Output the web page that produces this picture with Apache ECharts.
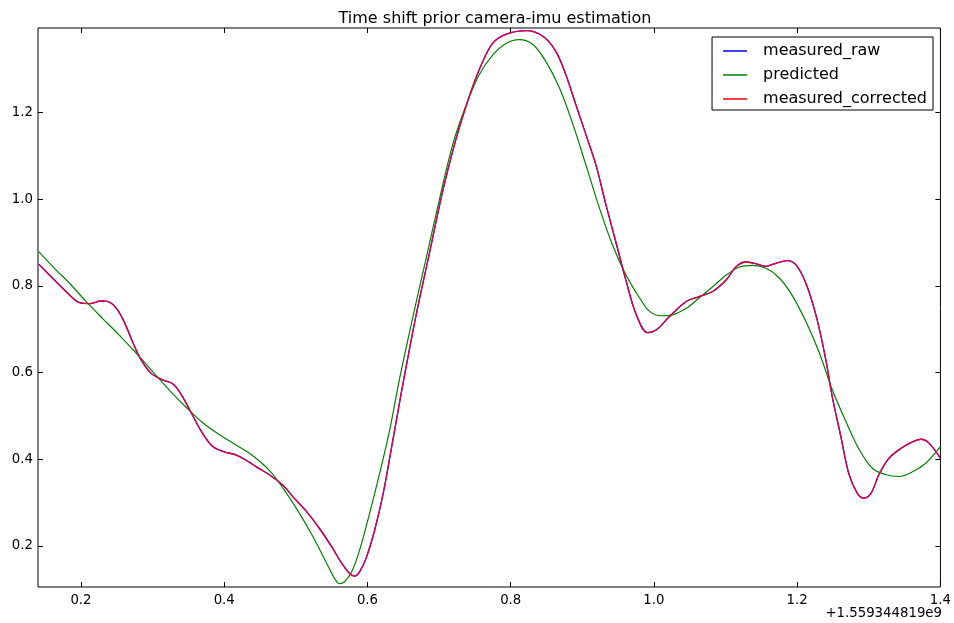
<!DOCTYPE html>
<html>
<head>
<meta charset="utf-8">
<script src="https://cdn.jsdelivr.net/npm/echarts@6/dist/echarts.min.js"></script>
<style>
  html, body { margin: 0; padding: 0; background: #fff; }
  #chart { width: 954px; height: 623px; }
</style>
</head>
<body>
<div id="chart"></div>
<script>
// Time axis: seconds relative to the offset 1.559344819e9
const measuredT = [0.141, 0.165, 0.184, 0.198, 0.212, 0.228, 0.237, 0.249, 0.260, 0.272,
  0.284, 0.298, 0.314, 0.328, 0.339, 0.353, 0.367, 0.384, 0.400, 0.416,
  0.430, 0.446, 0.463, 0.482, 0.496, 0.515, 0.533, 0.550, 0.564, 0.575,
  0.582, 0.589, 0.598, 0.610, 0.622, 0.633, 0.643, 0.650, 0.668, 0.687,
  0.705, 0.724, 0.743, 0.759, 0.775, 0.794, 0.822, 0.845, 0.863, 0.877,
  0.891, 0.905, 0.919, 0.933, 0.947, 0.961, 0.975, 0.991, 1.003, 1.021,
  1.045, 1.063, 1.082, 1.101, 1.114, 1.128, 1.142, 1.156, 1.170, 1.186,
  1.200, 1.214, 1.228, 1.240, 1.249, 1.261, 1.272, 1.284, 1.293, 1.303,
  1.314, 1.328, 1.345, 1.361, 1.373, 1.384, 1.400];

const measuredRaw = [0.850, 0.810, 0.779, 0.761, 0.759, 0.765, 0.764, 0.749, 0.718, 0.671,
  0.629, 0.598, 0.583, 0.574, 0.552, 0.510, 0.467, 0.429, 0.417, 0.410,
  0.398, 0.381, 0.364, 0.340, 0.313, 0.279, 0.240, 0.198, 0.160, 0.136,
  0.130, 0.140, 0.171, 0.236, 0.321, 0.421, 0.514, 0.578, 0.733, 0.879,
  1.018, 1.141, 1.241, 1.310, 1.360, 1.381, 1.389, 1.376, 1.341, 1.287,
  1.218, 1.149, 1.079, 0.987, 0.900, 0.812, 0.735, 0.692, 0.698, 0.728,
  0.764, 0.775, 0.787, 0.814, 0.843, 0.855, 0.851, 0.845, 0.852, 0.858,
  0.845, 0.798, 0.721, 0.629, 0.544, 0.452, 0.367, 0.321, 0.310, 0.321,
  0.364, 0.402, 0.425, 0.440, 0.446, 0.437, 0.402];

const measuredCorrected = [0.850, 0.810, 0.779, 0.761, 0.759, 0.765, 0.764, 0.749, 0.718, 0.671,
  0.629, 0.598, 0.583, 0.574, 0.552, 0.510, 0.467, 0.429, 0.417, 0.410,
  0.398, 0.381, 0.364, 0.340, 0.313, 0.279, 0.240, 0.198, 0.160, 0.136,
  0.130, 0.140, 0.171, 0.236, 0.321, 0.421, 0.514, 0.578, 0.733, 0.879,
  1.018, 1.141, 1.241, 1.310, 1.360, 1.381, 1.389, 1.376, 1.341, 1.287,
  1.218, 1.149, 1.079, 0.987, 0.900, 0.812, 0.735, 0.692, 0.698, 0.728,
  0.764, 0.775, 0.787, 0.814, 0.843, 0.855, 0.851, 0.845, 0.852, 0.858,
  0.845, 0.798, 0.721, 0.629, 0.544, 0.452, 0.367, 0.321, 0.310, 0.321,
  0.364, 0.402, 0.425, 0.440, 0.446, 0.437, 0.402];

const predictedT = [0.141, 0.165, 0.184, 0.207, 0.230, 0.253, 0.277, 0.300, 0.323, 0.346,
  0.370, 0.393, 0.416, 0.439, 0.463, 0.483, 0.505, 0.524, 0.543,
  0.554, 0.561, 0.568, 0.578, 0.589, 0.603, 0.617, 0.631, 0.645, 0.663,
  0.682, 0.701, 0.719, 0.738, 0.756, 0.775, 0.794, 0.812, 0.831, 0.849,
  0.868, 0.887, 0.905, 0.924, 0.942, 0.961, 0.980, 0.994, 1.010, 1.026,
  1.045, 1.063, 1.082, 1.101, 1.119, 1.138, 1.156, 1.175, 1.193, 1.212,
  1.231, 1.249, 1.268, 1.287, 1.305, 1.324, 1.342, 1.361, 1.379, 1.400];

const predicted = [0.879, 0.837, 0.806, 0.764, 0.725, 0.687, 0.645, 0.602, 0.560, 0.521,
  0.484, 0.457, 0.433, 0.409, 0.374, 0.331, 0.275, 0.221, 0.160,
  0.125, 0.113, 0.117, 0.140, 0.190, 0.275, 0.367, 0.467, 0.587, 0.725,
  0.864, 1.003, 1.126, 1.218, 1.287, 1.333, 1.360, 1.368, 1.357, 1.318,
  1.257, 1.172, 1.079, 0.979, 0.895, 0.825, 0.772, 0.741, 0.731, 0.733,
  0.748, 0.772, 0.798, 0.825, 0.843, 0.847, 0.841, 0.818, 0.778, 0.718,
  0.645, 0.560, 0.487, 0.421, 0.379, 0.364, 0.360, 0.371, 0.390, 0.429];

const xTicks = [0.2, 0.4, 0.6, 0.8, 1.0, 1.2, 1.4];
const yTicks = [0.2, 0.4, 0.6, 0.8, 1.0, 1.2];

const pairs = (xs, ys) => xs.map((x, i) => [x, ys[i]]);

const FONT = 'DejaVu Sans';
const fmt = v => v.toFixed(1);

const chart = echarts.init(document.getElementById('chart'), null, { renderer: 'canvas' });

const baseX = {
  type: 'value', min: 0.14, max: 1.4,
  splitLine: { show: false },
  axisLine: { show: false }
};
const baseY = {
  type: 'value', min: 0.105, max: 1.395,
  splitLine: { show: false },
  axisLine: { show: false }
};
const tick = { show: true, inside: true, length: 5, lineStyle: { color: '#000' } };

chart.setOption({
  animation: false,
  backgroundColor: '#fff',
  title: {
    text: 'Time shift prior camera-imu estimation',
    left: 490, top: 6, textAlign: 'center',
    textStyle: { fontFamily: FONT, fontSize: 16, fontWeight: 'normal', color: '#000' }
  },
  grid: {
    left: 38, right: 13, top: 28, bottom: 36,
    show: true, borderColor: '#000', borderWidth: 1, backgroundColor: 'transparent'
  },
  legend: {
    orient: 'vertical',
    right: 21, top: 37,
    padding: [5, 6, 2, 11],
    itemGap: 6,
    itemWidth: 24, itemHeight: 1.5,
    icon: 'rect',
    backgroundColor: '#fff',
    borderColor: '#000', borderWidth: 1, borderRadius: 0,
    textStyle: { fontFamily: FONT, fontSize: 16, color: '#000', lineHeight: 18, padding: [0, 0, 0, 11] },
    data: ['measured_raw', 'predicted', 'measured_corrected']
  },
  xAxis: [
    Object.assign({}, baseX, {
      position: 'bottom',
      axisTick: Object.assign({ customValues: xTicks }, tick),
      axisLabel: { customValues: xTicks, formatter: fmt, margin: 7, fontFamily: FONT, fontSize: 13.3, color: '#000' }
    }),
    Object.assign({}, baseX, {
      position: 'top',
      axisTick: Object.assign({ customValues: xTicks }, tick),
      axisLabel: { show: false, customValues: xTicks }
    })
  ],
  yAxis: [
    Object.assign({}, baseY, {
      position: 'left',
      axisTick: Object.assign({ customValues: yTicks }, tick),
      axisLabel: { customValues: yTicks, formatter: fmt, margin: 5, fontFamily: FONT, fontSize: 13.3, color: '#000' }
    }),
    Object.assign({}, baseY, {
      position: 'right',
      axisTick: Object.assign({ customValues: yTicks }, tick),
      axisLabel: { show: false, customValues: yTicks }
    })
  ],
  graphic: [{
    type: 'text', right: 12, top: 607,
    style: { text: '+1.559344819e9', fontFamily: FONT, fontSize: 13.3, fill: '#000' }
  }],
  series: [
    {
      name: 'measured_raw', type: 'line', data: pairs(measuredT, measuredRaw),
      showSymbol: false, smooth: 0.35, clip: true,
      itemStyle: { color: '#0000ff' }, lineStyle: { color: '#0000ff', width: 1.3 }
    },
    {
      name: 'predicted', type: 'line', data: pairs(predictedT, predicted),
      showSymbol: false, smooth: 0.35, clip: true,
      itemStyle: { color: '#008000' }, lineStyle: { color: '#008000', width: 1.2 }
    },
    {
      name: 'measured_corrected', type: 'line', data: pairs(measuredT, measuredCorrected),
      showSymbol: false, smooth: 0.35, clip: true,
      itemStyle: { color: '#ff0000' }, lineStyle: { color: '#e8003a', width: 1.3 }
    }
  ]
});
</script>
</body>
</html>
